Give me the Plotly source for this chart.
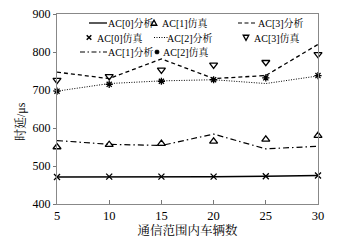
import plotly.graph_objects as go

vehicles = [5, 10, 15, 20, 25, 30]
ac0_ana = [471, 471, 472, 472, 473, 475]
ac0_sim = [471, 472, 472, 472, 473, 475]
ac1_ana = [567, 557, 554, 584, 545, 552]
ac1_sim = [550, 556, 559, 565, 570, 580]
ac2_ana = [697, 717, 724, 727, 717, 737]
ac2_sim = [697, 715, 723, 727, 732, 738]
ac3_ana = [747, 730, 782, 730, 738, 820]
ac3_sim = [726, 736, 753, 766, 773, 794]
y_ticks = [400, 500, 600, 700, 800, 900]

FONT = "Liberation Serif, Times New Roman, Noto Serif CJK SC, Noto Sans CJK SC, serif"

W, H = 350, 248
ML, MR, MT, MB = 57, 32, 14, 44
PW, PH = W - ML - MR, H - MT - MB

def px(x):
    return (x - ML) / PW

def py(y):
    return (H - MB - y) / PH

fig = go.Figure()

def add(name, y, mode, dash=None, symbol=None, size=6, lw=1.2):
    kw = dict(x=vehicles, y=y, name=name, mode=mode, showlegend=False, cliponaxis=False)
    if "lines" in mode:
        kw["line"] = dict(color="black", width=lw, dash=dash)
    if "markers" in mode:
        kw["marker"] = dict(symbol=symbol, size=size, color="black",
                            line=dict(color="black", width=1.3))
    fig.add_trace(go.Scatter(**kw))

add("AC[0]分析", ac0_ana, "lines", dash="solid", lw=1.5)
add("AC[0]仿真", ac0_sim, "markers", symbol="x-thin", size=6)
add("AC[1]分析", ac1_ana, "lines", dash="6px,3px,1.5px,3px", lw=1.2)
add("AC[1]仿真", ac1_sim, "markers", symbol="triangle-up-open", size=7)
add("AC[2]分析", ac2_ana, "lines", dash="1px,1.5px", lw=1.0)
add("AC[2]仿真", ac2_sim, "markers", symbol="asterisk-open", size=6)
add("AC[3]分析", ac3_ana, "lines", dash="4px,3px", lw=1.3)
add("AC[3]仿真", ac3_sim, "markers", symbol="triangle-down-open", size=7)

# ---- manual legend (compact, as in the reference) ----
shapes = []
annotations = []
LEG_FONT = dict(family=FONT, size=10, color="black")

def leg_text(x, y, text):
    annotations.append(dict(x=px(x), y=py(y), xref="paper", yref="paper", text=text,
                            showarrow=False, xanchor="left", yanchor="middle",
                            borderpad=0, font=LEG_FONT))

def leg_line(x0, x1, y, dash, lw):
    shapes.append(dict(type="line", xref="paper", yref="paper", x0=px(x0), x1=px(x1),
                       y0=py(y), y1=py(y), line=dict(color="black", width=lw, dash=dash)))

def leg_path(path_pts, closed=True, lw=1.2):
    d = "M " + " L ".join(f"{px(a):.5f},{py(b):.5f}" for a, b in path_pts)
    if closed:
        d += " Z"
    shapes.append(dict(type="path", xref="paper", yref="paper", path=d,
                       line=dict(color="black", width=lw)))

def leg_x(cx, cy, r=2.3):
    leg_path([(cx - r, cy - r), (cx + r, cy + r)], closed=False, lw=1.5)
    leg_path([(cx - r, cy + r), (cx + r, cy - r)], closed=False, lw=1.5)

def leg_tri(cx, cy, up=True, r=2.8):
    if up:
        pts = [(cx - r, cy + r * 0.8), (cx + r, cy + r * 0.8), (cx, cy - r)]
    else:
        pts = [(cx - r, cy - r * 0.8), (cx + r, cy - r * 0.8), (cx, cy + r)]
    leg_path(pts, closed=True, lw=1.3)

def leg_star(cx, cy, r=2.3):
    leg_path([(cx - r, cy), (cx + r, cy)], closed=False, lw=1.7)
    leg_path([(cx, cy - r), (cx, cy + r)], closed=False, lw=1.7)
    leg_path([(cx - r * 0.75, cy - r * 0.75), (cx + r * 0.75, cy + r * 0.75)], closed=False, lw=1.7)
    leg_path([(cx - r * 0.75, cy + r * 0.75), (cx + r * 0.75, cy - r * 0.75)], closed=False, lw=1.7)

R1, R2, R3 = 23, 37.5, 52
# column 1
leg_line(89, 107, R1, "solid", 1.3); leg_text(107, R1, "AC[0]分析")
leg_x(89, R2); leg_text(96, R2, "AC[0]仿真")
leg_line(80, 107, R3, "5px,2.5px,1.5px,2.5px", 1.2); leg_text(107, R3, "AC[1]分析")
# column 2
leg_tri(154, R1, up=True); leg_text(161, R1, "AC[1]仿真")
leg_line(154, 168, R2, "1px,1.5px", 1.0); leg_text(166, R2, "AC[2]分析")
leg_star(157, R3); leg_text(162, R3, "AC[2]仿真")
# column 3
leg_line(238, 257, R1, "4px,2.5px", 1.2); leg_text(257, R1, "AC[3]分析")
leg_tri(246, R2, up=False); leg_text(253, R2, "AC[3]仿真")

# y-axis title
annotations.append(dict(x=px(20), y=py(122), xref="paper", yref="paper", text="时延/μs",
                        showarrow=False, textangle=-90, xanchor="center", yanchor="middle",
                        font=dict(family=FONT, size=12, color="black")))

fig.update_layout(
    width=W, height=H,
    margin=dict(l=ML, r=MR, t=MT, b=MB, autoexpand=False),
    plot_bgcolor="white", paper_bgcolor="white",
    font=dict(family=FONT, size=12, color="black"),
    showlegend=False,
    shapes=shapes,
    annotations=annotations,
    xaxis=dict(range=[5, 30], tickvals=vehicles, ticks="inside", ticklen=4,
               tickcolor="#777", showline=True, linecolor="#888", linewidth=1.2,
               mirror=True, showgrid=False, zeroline=False, automargin=False,
               tickfont=dict(family=FONT, size=12.5),
               title=dict(text="通信范围内车辆数", font=dict(family=FONT, size=12.5), standoff=4)),
    yaxis=dict(range=[400, 900], tickvals=y_ticks,
               ticks="outside", ticklen=3, tickcolor="#777",
               showline=True, linecolor="#888", linewidth=1.2, mirror=True,
               showgrid=False, zeroline=False, automargin=False,
               tickfont=dict(family=FONT, size=12)),
)

fig.write_html("out.html", config={"displayModeBar": False},
               post_script="document.body.style.margin='0';document.body.style.padding='0';")
